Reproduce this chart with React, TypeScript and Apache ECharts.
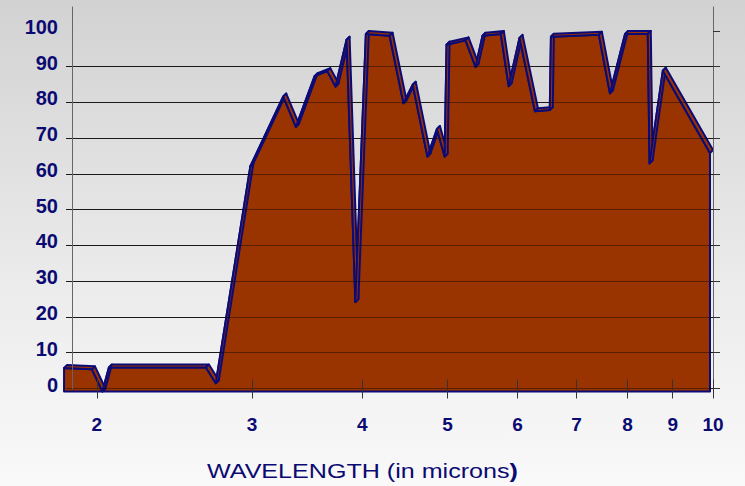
import React, { useEffect, useRef } from "react";
import * as echarts from "echarts";

// Wavelength (microns) and transmission (%) read along the back edge of the 3D band
const wavelengthsMicrons = [
  1.85, 1.99, 2.045, 2.08, 2.68, 2.75,
  3.01, 3.28, 3.39, 3.56, 3.68, 3.76, 3.87, 3.96,
  4.07, 4.33, 4.49, 4.6, 4.78, 4.9,
  5.0, 5.025, 5.28, 5.42, 5.52, 5.79, 5.91,
  6.08, 6.33, 6.58, 6.6,
  7.48, 7.7,
  8.01, 8.5, 8.54, 8.84,
  10,
];
const transmissionPercent = [
  6.6, 6.2, 0, 6.7, 6.7, 2.3,
  63, 82.5, 74, 88.2, 89.6, 85.3, 98.4, 25,
  100, 99.5, 80.6, 85.8, 65.7, 73.4,
  65.7, 97, 98.2, 90.8, 99.5, 100, 85.4,
  98.9, 78.4, 78.7, 99.2,
  99.8, 83.4,
  100, 100, 63.8, 89.7,
  66.7,
];
const xTickLabels = [2, 3, 4, 5, 6, 7, 8, 9, 10];
const yTickLabels = [0, 10, 20, 30, 40, 50, 60, 70, 80, 90, 100];

const X_MIN = 1.845;
const X_MAX = 10;
const Y_MAX = 106.7;

const BROWN = "#993300";
const NAVY = "#0b0b78";
const LABEL = "#0a0a72";
const FONT = "'Liberation Sans', Arial, sans-serif";
const DX = -3; // front face offset from back (pixels)
const DY = 3;

export default function App() {
  const ref = useRef<HTMLDivElement>(null);

  useEffect(() => {
    if (!ref.current) return;
    const chart = echarts.init(ref.current, undefined, { renderer: "svg" });
    const lx = (v: number) => Math.log10(v);
    const xTickPos = xTickLabels.map(lx);

    const option: any = {
      animation: false,
      backgroundColor: new echarts.graphic.LinearGradient(0, 0, 0, 1, [
        { offset: 0, color: "#d2d2d2" },
        { offset: 0.6, color: "#ececec" },
        { offset: 1, color: "#f9f9f9" },
      ]),
      grid: { left: 66, right: 32, top: 7, bottom: 97.5, containLabel: false },
      xAxis: [
        {
          type: "value",
          min: lx(X_MIN),
          max: lx(X_MAX),
          position: "bottom",
          z: 5,
          axisLine: { show: false },
          splitLine: { show: false },
          axisTick: {
            show: true,
            customValues: xTickPos,
            length: 10,
            inside: false,
            lineStyle: { color: "#333", width: 1 },
          },
          axisLabel: {
            customValues: xTickPos,
            formatter: (v: number) => String(Math.round(Math.pow(10, v))),
            color: LABEL,
            fontFamily: FONT,
            fontWeight: "bold",
            fontSize: 19,
            margin: 26,
          },
        },
        {
          type: "value",
          min: lx(X_MIN),
          max: lx(X_MAX),
          position: "bottom",
          z: 5,
          axisLine: { show: false },
          splitLine: { show: false },
          axisLabel: { show: false },
          axisTick: {
            show: true,
            customValues: xTickPos,
            length: 9,
            inside: true,
            lineStyle: { color: "#333", width: 1 },
          },
        },
      ],
      yAxis: [
        {
          type: "value",
          min: 0,
          max: Y_MAX,
          interval: 10,
          position: "left",
          offset: -6,
          axisLine: { show: false },
          axisTick: { show: false, customValues: yTickLabels },
          axisLabel: {
            customValues: yTickLabels,
            color: LABEL,
            fontFamily: FONT,
            fontWeight: "bold",
            fontSize: 20,
            margin: 14,
            lineHeight: 8,
            verticalAlign: "bottom",
          },
          splitLine: {
            show: true,
            showMaxLine: false,
            lineStyle: { color: "#2e2e2e", width: 1 },
          },
        },
        {
          type: "value",
          min: 0,
          max: Y_MAX,
          interval: 10,
          position: "left",
          offset: -6,
          z: 5,
          axisLine: { show: true, lineStyle: { color: "#666", width: 1 } },
          axisTick: { show: false, customValues: yTickLabels },
          axisLabel: { show: false },
          splitLine: {
            show: true,
            showMaxLine: false,
            lineStyle: { color: "rgba(0,0,0,0.42)", width: 1 },
          },
        },
        {
          type: "value",
          min: 0,
          max: Y_MAX,
          interval: 10,
          position: "right",
          z: 5,
          axisLine: { show: true, lineStyle: { color: "#666", width: 1 } },
          axisTick: {
            show: true,
            customValues: yTickLabels,
            length: 7,
            lineStyle: { color: "#333", width: 1 },
          },
          axisLabel: { show: false },
          splitLine: { show: false },
        },
      ],
      series: [
        {
          type: "custom",
          coordinateSystem: "cartesian2d",
          xAxisIndex: 0,
          yAxisIndex: 0,
          z: 2,
          clip: false,
          data: [[lx(wavelengthsMicrons[0]), 0]],
          renderItem: (params: any, api: any) => {
            if (params.dataIndex !== 0) return null;
            const n = wavelengthsMicrons.length;
            const back = wavelengthsMicrons.map((w, i) =>
              api.coord([lx(w), transmissionPercent[i]])
            );
            const front = back.map((p: number[]) => [p[0] + DX, p[1] + DY]);
            const b0 = api.coord([lx(wavelengthsMicrons[0]), 0]);
            const bN = api.coord([lx(wavelengthsMicrons[n - 1]), 0]);
            const frontPoly = [
              [b0[0] + DX, b0[1] + DY],
              ...front,
              [bN[0] + DX, bN[1] + DY],
            ];
            const children: any[] = [
              {
                type: "polygon",
                shape: { points: frontPoly },
                style: { fill: BROWN, stroke: NAVY, lineWidth: 2, lineJoin: "round" },
              },
            ];
            for (let i = 0; i < n - 1; i++) {
              children.push({
                type: "polygon",
                shape: { points: [front[i], front[i + 1], back[i + 1], back[i]] },
                style: { fill: BROWN, stroke: NAVY, lineWidth: 2, lineJoin: "round" },
              });
            }
            return { type: "group", children };
          },
        },
      ],
      graphic: [
        {
          type: "text",
          x: 207,
          y: 471,
          scaleX: 1.255,
          style: {
            text: "{a|WAVELENGTH (in microns}{b|)}",
            verticalAlign: "middle",
            align: "left",
            rich: {
              a: { fontSize: 20, fontFamily: FONT, fill: LABEL, fontWeight: "normal" },
              b: { fontSize: 20, fontFamily: FONT, fill: LABEL, fontWeight: "bold" },
            },
          },
        },
      ],
    };

    chart.setOption(option);
    return () => chart.dispose();
  }, []);

  return (
    <div
      ref={ref}
      style={{ position: "fixed", left: 0, top: 0, width: 745, height: 486 }}
    />
  );
}
